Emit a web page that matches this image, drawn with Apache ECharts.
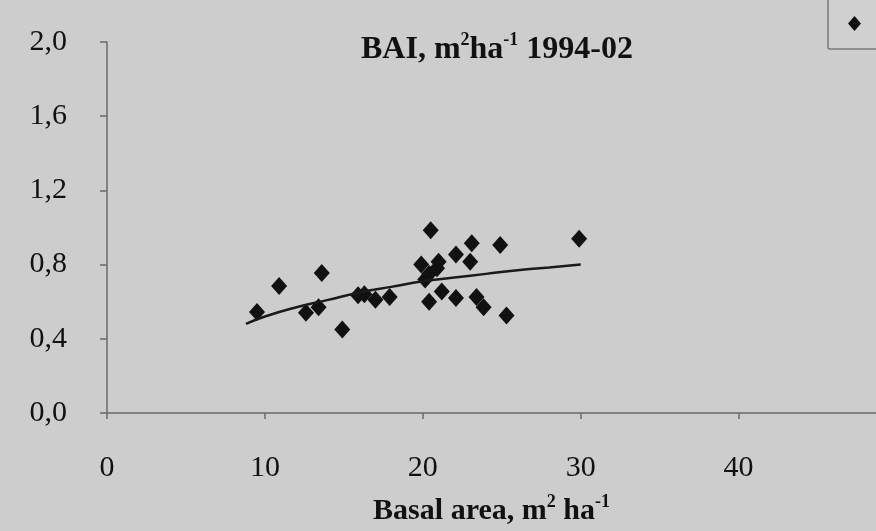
<!DOCTYPE html>
<html>
<head>
<meta charset="utf-8">
<script src="https://cdn.jsdelivr.net/npm/echarts@6/dist/echarts.min.js"></script>
<style>
  html, body { margin: 0; padding: 0; background: #cdcdcd; }
  #chart { width: 876px; height: 531px; }
</style>
</head>
<body>
<div id="chart"></div>
<script>
// basal area (m2/ha) vs BAI (m2/ha) 1994-02
const basalArea = [9.5, 10.9, 12.6, 13.4, 13.6, 14.9, 15.9, 16.3, 17.0, 17.9,
  19.9, 20.15, 20.4, 20.4, 20.5, 20.9, 21.0, 21.2, 22.1, 22.1,
  23.0, 23.1, 23.4, 23.85, 24.9, 25.3, 29.9]
const bai = [0.545, 0.685, 0.54, 0.57, 0.755, 0.45, 0.635, 0.64, 0.61, 0.625,
  0.80, 0.72, 0.75, 0.60, 0.985, 0.78, 0.815, 0.655, 0.62, 0.855,
  0.815, 0.915, 0.625, 0.57, 0.905, 0.525, 0.94]

// fitted trend line
const trendX = [8.8, 10, 12, 14, 16, 18, 20, 22, 24, 26, 28, 30]
const trendY = [0.48, 0.52, 0.57, 0.61, 0.65, 0.68, 0.71, 0.73, 0.75, 0.77, 0.785, 0.80]

const xTicks = [0, 10, 20, 30, 40]
const yTicks = [0, 0.4, 0.8, 1.2, 1.6, 2.0]

const serif = '"Liberation Serif", "DejaVu Serif", serif'
const ink = '#111'

const chart = echarts.init(document.getElementById('chart'))

const option = {
  backgroundColor: '#cdcdcd',
  animation: false,
  title: {
    text: '{b|BAI, m}{s|2}{b|ha}{s|-1}{b| 1994-02}',
    left: 356,
    top: 26,
    textStyle: {
      rich: {
        b: { fontFamily: serif, fontWeight: 'bold', fontSize: 32, color: ink, lineHeight: 38 },
        s: { fontFamily: serif, fontWeight: 'bold', fontSize: 18, color: ink, verticalAlign: 'top', lineHeight: 38 }
      }
    }
  },
  legend: {
    left: 828,
    top: -10,
    data: [{ name: 'BAI', icon: 'diamond' }],
    formatter: () => '',
    itemWidth: 13,
    itemHeight: 15,
    padding: [26, 60, 18, 20],
    borderColor: '#7a7a7a',
    borderWidth: 1.5,
    borderRadius: 2,
    backgroundColor: '#d0d0d0'
  },
  grid: {
    left: 107,
    right: 0,
    top: 42,
    bottom: 118,
    containLabel: false
  },
  xAxis: {
    type: 'value',
    min: xTicks[0],
    max: 48.7,
    interval: 10,
    splitLine: { show: false },
    axisLine: { onZero: false, lineStyle: { color: '#6a6a6a', width: 1.5 } },
    axisTick: { inside: false, length: 6, lineStyle: { color: '#6a6a6a', width: 1.5 } },
    axisLabel: {
      showMaxLabel: false,
      margin: 40,
      fontFamily: serif,
      fontSize: 30,
      color: ink
    },
    name: '{b|Basal area, m}{s|2}{b| ha}{s|-1}',
    nameLocation: 'middle',
    nameGap: 80,
    nameTextStyle: {
      rich: {
        b: { fontFamily: serif, fontWeight: 'bold', fontSize: 30, color: ink, lineHeight: 36 },
        s: { fontFamily: serif, fontWeight: 'bold', fontSize: 18, color: ink, verticalAlign: 'top', lineHeight: 36 }
      }
    }
  },
  yAxis: {
    type: 'value',
    min: yTicks[0],
    max: yTicks[yTicks.length - 1],
    interval: 0.4,
    splitLine: { show: false },
    axisLine: { show: true, lineStyle: { color: '#6a6a6a', width: 1.5 } },
    axisTick: { show: true, length: 7, lineStyle: { color: '#6a6a6a', width: 1.5 } },
    axisLabel: {
      margin: 40,
      fontFamily: serif,
      fontSize: 30,
      color: ink,
      formatter: v => v.toFixed(1).replace('.', ',')
    }
  },
  series: [
    {
      name: 'BAI',
      type: 'scatter',
      symbol: 'diamond',
      symbolSize: [16, 18],
      itemStyle: { color: ink, opacity: 1 },
      data: basalArea.map((x, i) => [x, bai[i]]),
      z: 3
    },
    {
      name: 'trend',
      type: 'line',
      smooth: true,
      showSymbol: false,
      lineStyle: { color: '#1a1a1a', width: 2.5 },
      data: trendX.map((x, i) => [x, trendY[i]]),
      z: 4
    }
  ]
}

chart.setOption(option)
</script>
</body>
</html>
